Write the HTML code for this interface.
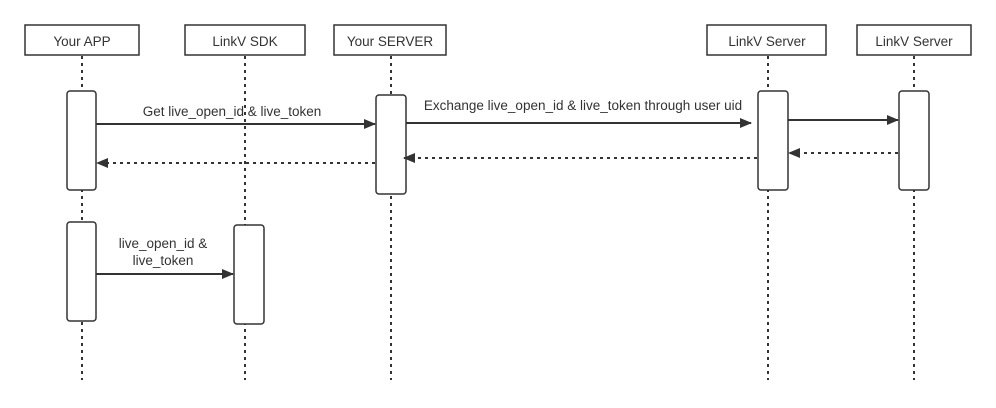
<!DOCTYPE html>
<html><head><meta charset="utf-8"><style>
html,body{margin:0;padding:0;background:#fff;}
svg{display:block;}
text{font-family:"Liberation Sans",Arial,sans-serif;font-size:13.5px;fill:#333;}
</style></head><body>
<svg width="996" height="408" viewBox="0 0 996 408" xmlns="http://www.w3.org/2000/svg">
<defs>
<marker id="ah" markerWidth="12" markerHeight="10" refX="11" refY="5" orient="auto" markerUnits="userSpaceOnUse">
<path d="M0,0 L12,5 L0,10 Z" fill="#333"/></marker>
</defs>
<g stroke="#333" stroke-width="2" stroke-dasharray="3,4" fill="none">
<line x1="82" y1="56" x2="82" y2="380"/>
<line x1="245" y1="56" x2="245" y2="380"/>
<line x1="391" y1="56" x2="391" y2="380"/>
<line x1="768" y1="56" x2="768" y2="380"/>
<line x1="914" y1="56" x2="914" y2="380"/>
</g>
<g stroke="#333" stroke-width="1.5" fill="#fff">
<rect x="25" y="25" width="114" height="30"/>
<rect x="185" y="25" width="120" height="30"/>
<rect x="334" y="25" width="112" height="30"/>
<rect x="707" y="25" width="119" height="30"/>
<rect x="857" y="25" width="114" height="30"/>
</g>
<g text-anchor="middle">
<text x="82" y="46">Your APP</text>
<text x="245" y="46">LinkV SDK</text>
<text x="390" y="46">Your SERVER</text>
<text x="767" y="46">LinkV Server</text>
<text x="914" y="46">LinkV Server</text>
</g>
<g stroke="#333" stroke-width="1.5" fill="#fff">
<rect x="67" y="91" width="29" height="99" rx="3"/>
<rect x="376" y="95" width="30" height="99" rx="3"/>
<rect x="758" y="91" width="30" height="99" rx="3"/>
<rect x="899" y="91" width="30" height="99" rx="3"/>
<rect x="67" y="222" width="29" height="99" rx="3"/>
<rect x="234" y="225" width="30" height="99" rx="3"/>
</g>
<g stroke="#333" stroke-width="2" fill="none">
<line x1="96" y1="124" x2="375" y2="124" marker-end="url(#ah)"/>
<line x1="406" y1="123" x2="751" y2="123" marker-end="url(#ah)"/>
<line x1="788" y1="120" x2="898" y2="120" marker-end="url(#ah)"/>
<line x1="96" y1="274" x2="233" y2="274" marker-end="url(#ah)"/>
<line x1="375" y1="163" x2="97" y2="163" stroke-dasharray="3,4" marker-end="url(#ah)"/>
<line x1="757" y1="158" x2="404" y2="158" stroke-dasharray="3,4" marker-end="url(#ah)"/>
<line x1="898" y1="153" x2="789" y2="153" stroke-dasharray="3,4" marker-end="url(#ah)"/>
</g>
<g text-anchor="middle">
<text x="232" y="116">Get live_open_id &amp; live_token</text>
<text x="583" y="110">Exchange live_open_id &amp; live_token through user uid</text>
<text x="163" y="248">live_open_id &amp;</text>
<text x="163" y="265">live_token</text>
</g>
</svg>
</body></html>
